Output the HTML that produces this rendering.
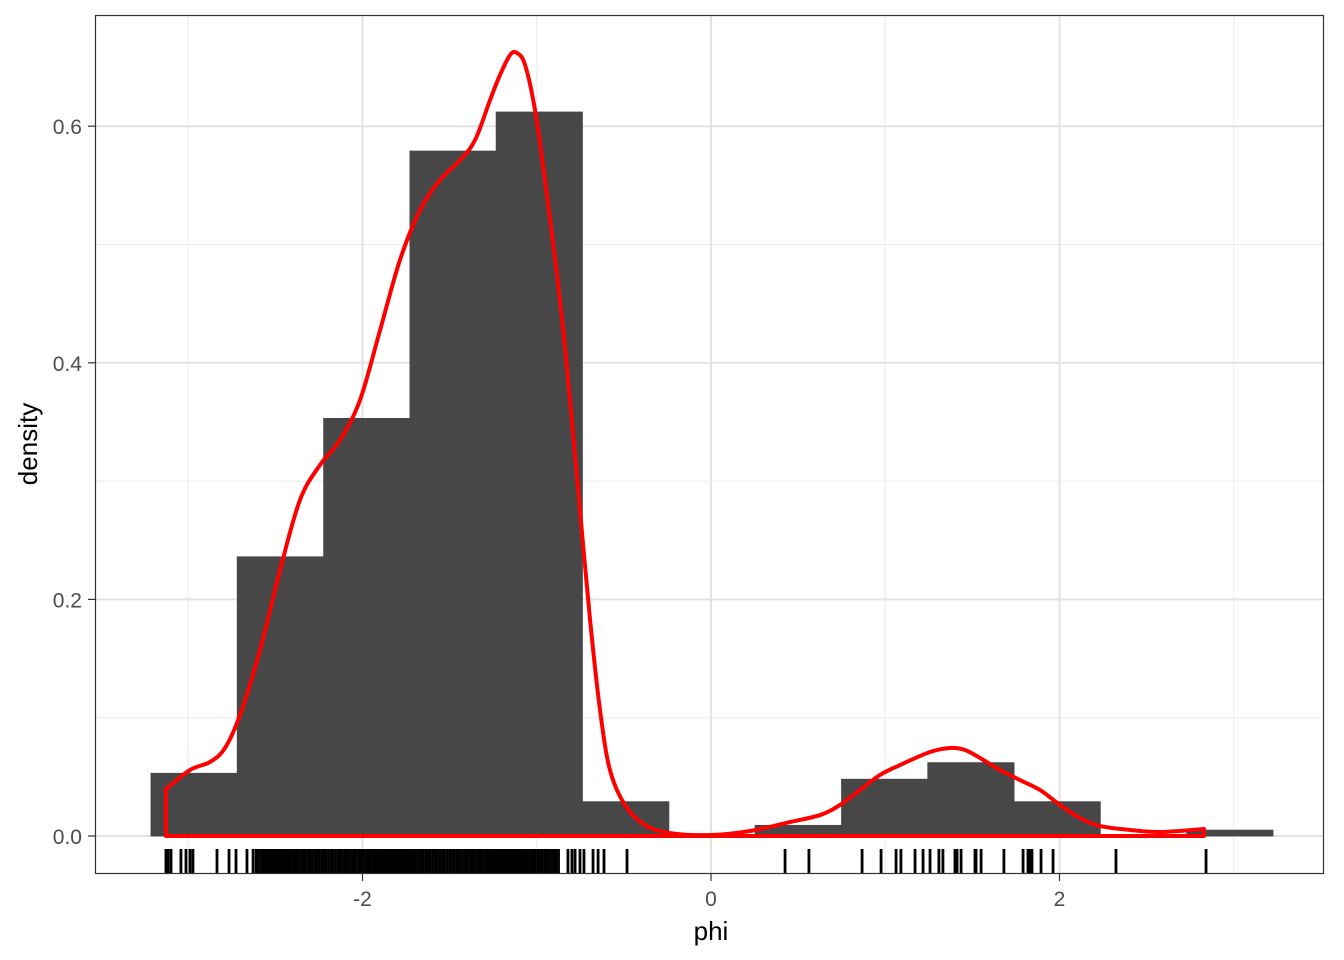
<!DOCTYPE html>
<html><head><meta charset="utf-8"><style>
body{margin:0;background:#fff}
svg{display:block;font-family:"Liberation Sans",Arial,sans-serif}
</style></head><body>
<svg id="chart" width="1344" height="960" viewBox="0 0 1344 960" xmlns="http://www.w3.org/2000/svg"></svg>
<script>
const binStarts=[-3.214,-2.719,-2.223,-1.728,-1.233,-0.737,-0.242,0.253,0.749,1.244,1.739,2.235,2.730];
const binHeights=[0.053,0.236,0.353,0.579,0.612,0.029,0,0.009,0.048,0.062,0.029,0,0.005];
const densX=[-3.128,-2.990,-2.875,-2.789,-2.703,-2.588,-2.473,-2.359,-2.244,-2.129,-2.014,-1.899,-1.785,-1.670,-1.555,-1.440,-1.354,-1.268,-1.211,-1.153,-1.113,-1.067,-1.010,-0.953,-0.867,-0.809,-0.752,-0.694,-0.637,-0.580,-0.494,-0.379,-0.235,0,0.224,0.453,0.626,0.740,0.855,0.970,1.085,1.257,1.372,1.458,1.544,1.659,1.773,1.888,2.003,2.118,2.232,2.405,2.577,2.829];
const densY=[0.0397,0.0558,0.0626,0.0744,0.1023,0.1572,0.2249,0.2840,0.3136,0.3347,0.3686,0.4277,0.4869,0.5291,0.5545,0.5714,0.5883,0.6221,0.6433,0.6602,0.6619,0.6518,0.6137,0.5545,0.4531,0.3686,0.2756,0.1826,0.1065,0.0558,0.0262,0.0093,0.0025,0.0008,0.0042,0.0118,0.0177,0.0262,0.0389,0.0516,0.0600,0.0710,0.0744,0.0727,0.0659,0.0558,0.0473,0.0389,0.0262,0.0152,0.0085,0.0051,0.0034,0.0059];
const rugValues=[-3.128,-3.116,-3.099,-3.042,-3.013,-2.990,-2.973,-2.835,-2.766,-2.726,-2.663,-2.628,
-2.61,-2.60,-2.585,-2.57,-2.555,-2.54,-2.53,-2.515,-2.50,-2.49,-2.475,-2.46,-2.45,-2.435,-2.42,-2.41,-2.395,-2.38,-2.37,-2.355,-2.34,-2.33,-2.315,-2.30,-2.29,-2.275,-2.26,-2.25,-2.235,-2.22,-2.21,-2.195,-2.18,-2.17,-2.155,-2.14,-2.13,-2.115,-2.10,-2.09,-2.075,-2.06,-2.05,-2.035,-2.02,-2.01,-1.995,-1.98,-1.97,-1.955,-1.94,-1.93,-1.915,-1.90,-1.89,-1.875,-1.86,-1.85,-1.835,-1.82,-1.81,-1.795,-1.78,-1.77,-1.755,-1.74,-1.73,-1.715,-1.70,-1.69,-1.675,-1.66,-1.65,-1.635,-1.62,-1.61,-1.595,-1.58,-1.57,-1.555,-1.54,-1.53,-1.515,-1.50,-1.49,-1.475,-1.46,-1.45,-1.435,-1.42,-1.41,-1.395,-1.38,-1.37,-1.355,-1.34,-1.33,-1.315,-1.30,-1.29,-1.275,-1.26,-1.25,-1.235,-1.22,-1.21,-1.195,-1.18,-1.17,-1.155,-1.14,-1.13,-1.115,-1.10,-1.09,-1.075,-1.06,-1.05,-1.035,-1.02,-1.01,-0.995,-0.98,-0.97,-0.955,-0.94,-0.93,-0.915,-0.90,-0.89,-0.875,
-0.821,-0.798,-0.780,-0.752,-0.729,-0.677,-0.648,-0.614,-0.482,
0.425,0.562,0.867,0.976,1.062,1.090,1.171,1.217,1.257,1.308,1.331,1.400,1.412,1.435,1.515,1.521,1.550,1.681,1.791,1.819,1.831,1.842,1.894,1.963,2.324,2.841];
const xTicks=[-2,0,2];
const xMinor=[-3,-1,1,3];
const yTicks=[0,0.2,0.4,0.6];
const yTickLabels=["0.0","0.2","0.4","0.6"];
const yMinor=[0.1,0.3,0.5];
const binWidth=0.4953;

const L=95,R=1324,T=15,B=874;
const sx=v=>711+v*174.25;
const sy=v=>836-v*1183;
const svg=document.getElementById('chart');
const NS='http://www.w3.org/2000/svg';
function mk(tag,attrs,parent){const e=document.createElementNS(NS,tag);for(const k in attrs)e.setAttribute(k,attrs[k]);(parent||svg).appendChild(e);return e;}

const bg=mk('rect',{x:L,y:T,width:R-L,height:B-T,fill:'#fff'});


const grid=mk('g',{});


yMinor.forEach(v=>mk('line',{x1:L,x2:R,y1:sy(v),y2:sy(v),stroke:'#ebebeb','stroke-width':1},grid));
xMinor.forEach(v=>mk('line',{y1:T,y2:B,x1:sx(v),x2:sx(v),stroke:'#ebebeb','stroke-width':1},grid));
yTicks.forEach(v=>mk('line',{x1:L,x2:R,y1:sy(v),y2:sy(v),stroke:'#e3e3e3','stroke-width':2},grid));
xTicks.forEach(v=>mk('line',{y1:T,y2:B,x1:sx(v),x2:sx(v),stroke:'#e3e3e3','stroke-width':2},grid));

const bars=mk('g',{});


binStarts.forEach((s,i)=>{
  if(binHeights[i]<=0)return;
  const r=mk('rect',{x:sx(s),y:sy(binHeights[i]),width:sx(s+binWidth)-sx(s),height:sy(0)-sy(binHeights[i]),fill:'#474747',stroke:'#474747','stroke-width':0.8},bars);
  
  
});

const pts=densX.map((x,i)=>[sx(x),sy(densY[i])]);
let d='M'+sx(densX[0])+','+sy(0)+' L'+pts[0][0]+','+pts[0][1];
for(let i=0;i<pts.length-1;i++){
  const p0=pts[Math.max(i-1,0)],p1=pts[i],p2=pts[i+1],p3=pts[Math.min(i+2,pts.length-1)];
  const c1=[p1[0]+(p2[0]-p0[0])/6,p1[1]+(p2[1]-p0[1])/6];
  const c2=[p2[0]-(p3[0]-p1[0])/6,p2[1]-(p3[1]-p1[1])/6];
  d+=' C'+c1[0]+','+c1[1]+' '+c2[0]+','+c2[1]+' '+p2[0]+','+p2[1];
}
d+=' L'+sx(densX[densX.length-1])+','+sy(0)+' Z';
const curve=mk('path',{d:d,fill:'none',stroke:'#ff0000','stroke-width':4,'stroke-linejoin':'round'});



const rug=mk('g',{});


rugValues.forEach(v=>mk('line',{x1:sx(v),x2:sx(v),y1:849,y2:874,stroke:'#000','stroke-width':2.8},rug));

const border=mk('rect',{x:L+0.5,y:T+0.5,width:R-L-1,height:B-T-1,fill:'none',stroke:'#333','stroke-width':1.2});



yTicks.forEach((v,i)=>{
  mk('line',{x1:L-7,x2:L,y1:sy(v),y2:sy(v),stroke:'#333','stroke-width':1.2});
  const t=mk('text',{x:L-13,y:sy(v)+8,'text-anchor':'end','font-size':21,fill:'#4d4d4d'});
  t.textContent=yTickLabels[i];
  
  
});
xTicks.forEach(v=>{
  mk('line',{x1:sx(v),x2:sx(v),y1:B,y2:B+7,stroke:'#333','stroke-width':1.2});
  const t=mk('text',{x:sx(v),y:906,'text-anchor':'middle','font-size':21,fill:'#4d4d4d'});
  t.textContent=String(v);
  
  
});
const xt=mk('text',{x:711,y:940,'text-anchor':'middle','font-size':26,fill:'#000'});
xt.textContent='phi';


const yt=mk('text',{x:37,y:444,'text-anchor':'middle','font-size':26,fill:'#000',transform:'rotate(-90 37 444)'});
yt.textContent='density';


</script>
</body></html>
